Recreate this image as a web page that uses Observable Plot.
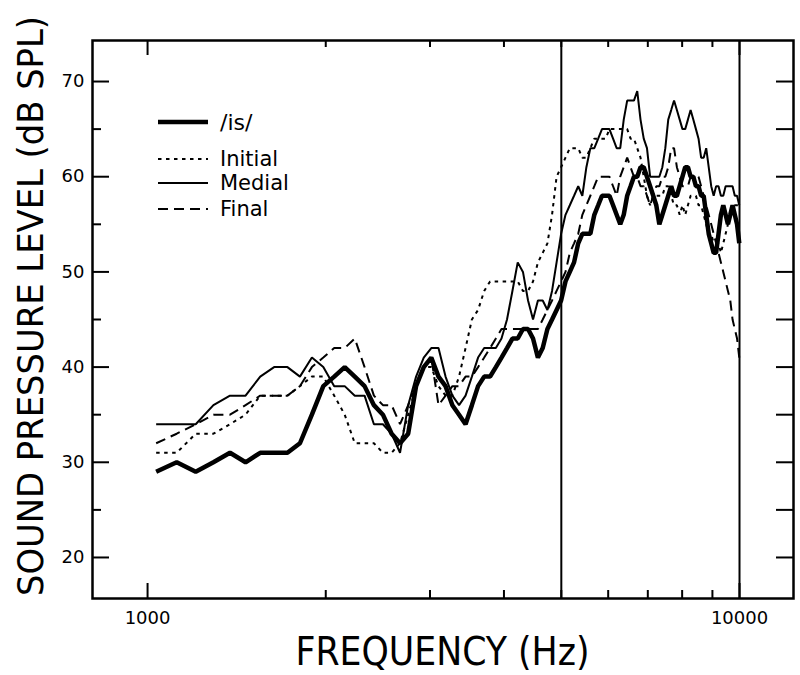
<!DOCTYPE html>
<html><head><meta charset="utf-8">
<script src="https://cdn.jsdelivr.net/npm/d3@7"></script>
<script src="https://cdn.jsdelivr.net/npm/@observablehq/plot@0.6"></script>
<style>
body{margin:0;background:#fff;}
#chart{position:relative;width:800px;height:675px;}
</style></head><body><div id="chart"></div>
<script>
// ---- data ----
const freqHz = [
1034,1120,1206,1292,1378,1464,1550,1636,1723,1809,
1895,1981,2067,2153,2239,2326,2412,2498,2584,2670,
2756,2842,2928,3015,3101,3187,3273,3359,3445,3531,
3617,3704,3790,3876,3962,4048,4134,4220,4307,4393,
4479,4565,4651,4737,4823,4909,4996,5082,5168,5254,
5340,5426,5512,5598,5685,5771,5857,5943,6029,6115,
6201,6288,6374,6460,6546,6632,6718,6804,6890,6977,
7063,7149,7235,7321,7407,7493,7579,7666,7752,7838,
7924,8010,8096,8182,8268,8355,8441,8527,8613,8699,
8785,8871,8958,9044,9130,9216,9302,9388,9474,9560,
9647,9733,9819,9905,9991];

const isLevel = [
29,30,29,30,31,30,31,31,31,32,
35,38,39,40,39,38,36,35,33,32,
33,38,40,41,39,38,36,35,34,36,
38,39,39,40,41,42,43,43,44,44,
43,41,42,44,45,46,47,49,50,51,
53,54,54,54,56,57,58,58,58,57,
56,55,56,58,59,60,60,61,61,60,
59,58,57,55,56,57,58,59,58,58,
59,60,61,61,60,60,59,59,58,58,
56,54,53,52,52,54,56,57,56,55,
56,57,56,55,53];

const initialLevel = [
31,31,33,33,34,35,37,37,37,38,
39,39,37,35,32,32,32,31,31,32,
35,38,40,40,38,37,37,39,42,45,
46,48,49,49,49,49,49,49,48,48,
49,51,52,53,56,60,61,62,63,63,
63,62,62,63,64,64,64,64,65,65,
65,65,65,65,64,64,63,62,60,58,
57,58,58,58,58,59,59,58,57,57,
56,57,56,57,58,58,58,57,57,56,
55,54,54,53,53,53,52,53,54,55,
56,57,57,57,57];

const medialLevel = [
34,34,34,36,37,37,39,40,40,39,
41,40,38,38,37,37,34,34,33,31,
36,39,41,42,42,39,37,36,37,39,
41,42,42,42,43,45,48,51,50,47,
45,47,47,46,48,51,54,56,57,58,
59,58,61,63,63,64,65,65,65,64,
63,63,66,68,68,68,69,66,64,63,
60,60,60,60,61,63,66,67,68,67,
66,65,65,66,67,66,65,64,62,62,
63,61,59,58,59,59,58,58,59,59,
59,59,58,58,57];

const finalLevel = [
32,33,34,35,35,36,37,37,37,38,
40,41,42,42,43,40,37,36,36,34,
36,38,40,41,36,37,38,38,39,39,
40,41,42,43,44,44,44,44,44,44,
44,44,45,46,47,48,49,50,52,53,
54,56,57,58,59,60,60,60,60,59,
58,60,61,62,61,60,60,59,59,58,
57,58,59,59,60,60,61,63,63,61,
60,59,59,59,60,60,60,60,59,58,
57,56,55,54,53,52,51,50,49,48,
47,45,44,43,41];

const seriesNames = ["/is/", "Initial", "Medial", "Final"];
const boundaryHz = [5000, 10000];
const xTickMajor = [1000, 10000];
const xTickMinor = [2000, 3000, 4000, 5000, 6000, 7000, 8000, 9000];
const xTickLabels = [1000, 10000];
const yTickMajor = [20, 30, 40, 50, 60, 70];
const yTickMinor = [25, 35, 45, 55, 65];
const xTitle = "FREQUENCY (Hz)";
const yTitle = "SOUND PRESSURE LEVEL (dB SPL)";

// ---- layout / style ----
const W = 800, H = 675, mL = 92, mR = 7, mT = 40, mB = 77;
const innerW = W - mL - mR, innerH = H - mT - mB;
const FONT = '"DejaVu Sans",sans-serif';
const styleOf = {
  "/is/":   {strokeWidth: 4.5},
  "Initial":{strokeWidth: 2, strokeDasharray: "3.5,4.5"},
  "Medial": {strokeWidth: 2},
  "Final":  {strokeWidth: 2, strokeDasharray: "10,6"}
};
const levelsOf = {"/is/": isLevel, "Initial": initialLevel, "Medial": medialLevel, "Final": finalLevel};
const rowsOf = name => freqHz.map((f, i) => ({f, db: levelsOf[name][i]}));
const drawOrder = ["Initial", "Final", "Medial", "/is/"];

const chart = Plot.plot({
  width: W, height: H,
  marginLeft: mL, marginRight: mR, marginTop: mT, marginBottom: mB,
  style: {fontFamily: FONT, background: "white", color: "black"},
  x: {type: "log", domain: [807.2, 12337], axis: null},
  y: {domain: [15.69, 74.31], axis: null},
  marks: [
    ...drawOrder.map(name => Plot.line(rowsOf(name), {
      x: "f", y: "db", stroke: "black", strokeLinejoin: "miter", strokeLinecap: "butt", ...styleOf[name]
    })),
    Plot.ruleX(boundaryHz, {x: d => d, stroke: "black", strokeWidth: 2}),
    // inward ticks on all four sides
    Plot.tickY(yTickMajor, {y: d => d, insetRight: innerW - 17, stroke: "black", strokeWidth: 2}),
    Plot.tickY(yTickMinor, {y: d => d, insetRight: innerW - 9, stroke: "black", strokeWidth: 2}),
    Plot.tickY(yTickMajor.concat(yTickMinor), {y: d => d, insetLeft: innerW - 17, stroke: "black", strokeWidth: 2}),
    Plot.tickX(xTickMajor, {x: d => d, insetTop: innerH - 15, stroke: "black", strokeWidth: 2}),
    Plot.tickX(xTickMinor, {x: d => d, insetTop: innerH - 8, stroke: "black", strokeWidth: 2}),
    Plot.tickX(xTickMajor, {x: d => d, insetBottom: innerH - 15, stroke: "black", strokeWidth: 2}),
    Plot.tickX(xTickMinor, {x: d => d, insetBottom: innerH - 7, stroke: "black", strokeWidth: 2}),
    Plot.frame({stroke: "black", strokeWidth: 2.5}),
    // tick labels as text marks positioned through the scales
    Plot.text(xTickLabels, {x: d => d, text: d => String(d), frameAnchor: "bottom", dy: 20,
      fontSize: 18, fill: "black", lineAnchor: "middle", ariaLabel: "xlabels"}),
    Plot.text(yTickMajor, {y: d => d, text: d => String(d), frameAnchor: "left", dx: -8,
      textAnchor: "end", fontSize: 18, fill: "black", lineAnchor: "middle", ariaLabel: "ylabels"})
  ]
});
document.getElementById("chart").appendChild(chart);

const svg = d3.select(chart);
// narrow the tick-label lettering like the reference
svg.selectAll("g[aria-label='xlabels'] text").each(function() {
  const t = d3.select(this);
  t.attr("textLength", t.text().length * 7.6).attr("lengthAdjust", "spacingAndGlyphs");
});
svg.selectAll("g[aria-label='ylabels'] text").each(function() {
  const t = d3.select(this);
  t.attr("textLength", t.text().length * 7.8).attr("lengthAdjust", "spacingAndGlyphs");
});

// ---- axis titles ----
svg.append("text").attr("x", mL + innerW / 2).attr("y", 651).attr("dy", "0.35em")
  .attr("text-anchor", "middle").attr("font-family", FONT).attr("font-size", 39)
  .attr("textLength", 294).attr("lengthAdjust", "spacingAndGlyphs").text(xTitle);
svg.append("text").attr("transform", "translate(31,306) rotate(-90)").attr("dy", "0.35em")
  .attr("text-anchor", "middle").attr("font-family", FONT).attr("font-size", 35)
  .attr("textLength", 580).attr("lengthAdjust", "spacingAndGlyphs").text(yTitle);

// ---- legend (inside the plot, top-left) ----
const legendLayout = [
  {name: seriesNames[0], y: 122, size: 22},
  {name: seriesNames[1], y: 159, size: 21},
  {name: seriesNames[2], y: 183, size: 21},
  {name: seriesNames[3], y: 209, size: 21}
];
const g = svg.append("g").attr("font-family", FONT).attr("text-anchor", "start");
legendLayout.forEach(r => {
  const st = styleOf[r.name];
  g.append("line").attr("x1", 158).attr("x2", 208).attr("y1", r.y).attr("y2", r.y)
    .attr("stroke", "black").attr("stroke-width", st.strokeWidth)
    .attr("stroke-dasharray", st.strokeDasharray || null);
  g.append("text").attr("x", 220).attr("y", r.y).attr("dy", "0.35em")
    .attr("font-size", r.size).attr("fill", "black").attr("text-anchor", "start").text(r.name);
});
</script></body></html>
